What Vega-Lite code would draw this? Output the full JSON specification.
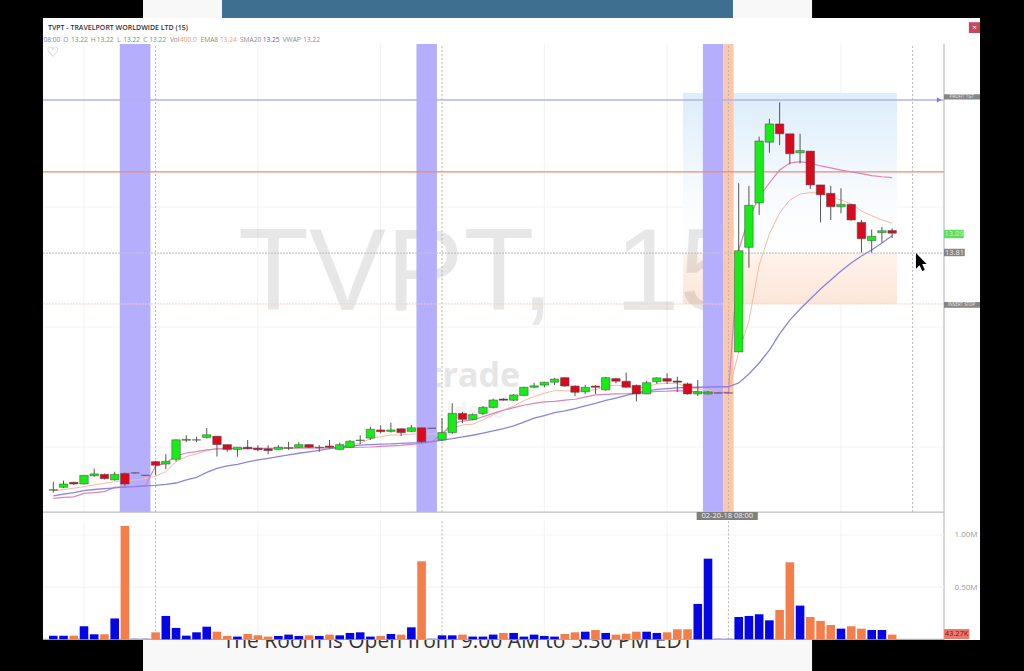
{"$schema":"https://vega.github.io/schema/vega-lite/v6.json","width":1024,"height":671,"autosize":{"type":"none"},"padding":0,"background":"#000000","config":{"view":{"stroke":null},"font":"Open Sans","axis":{"title":null}},
"datasets":{"bars":[
{"i":0,"o":12.820,"h":12.855,"l":12.810,"c":12.822,"v":35000,"dir":"up","ema":12.817,"sma":12.796,"vwap":12.786},
{"i":1,"o":12.832,"h":12.860,"l":12.829,"c":12.846,"v":35000,"dir":"up","ema":12.823,"sma":12.804,"vwap":12.790},
{"i":2,"o":12.853,"h":12.855,"l":12.842,"c":12.846,"v":35000,"dir":"down","ema":12.828,"sma":12.810,"vwap":12.792},
{"i":3,"o":12.846,"h":12.883,"l":12.844,"c":12.882,"v":125000,"dir":"up","ema":12.835,"sma":12.818,"vwap":12.807},
{"i":4,"o":12.880,"h":12.910,"l":12.876,"c":12.888,"v":48000,"dir":"up","ema":12.842,"sma":12.823,"vwap":12.810},
{"i":5,"o":12.886,"h":12.889,"l":12.865,"c":12.868,"v":48000,"dir":"down","ema":12.849,"sma":12.827,"vwap":12.814},
{"i":6,"o":12.863,"h":12.897,"l":12.860,"c":12.886,"v":200000,"dir":"up","ema":12.855,"sma":12.830,"vwap":12.832},
{"i":7,"o":12.890,"h":12.893,"l":12.838,"c":12.846,"v":1086000,"dir":"down","ema":12.860,"sma":12.833,"vwap":12.835},
{"i":8,"o":12.892,"h":12.893,"l":12.890,"c":12.892,"v":10000,"dir":"flat","ema":12.863,"sma":12.835,"vwap":12.836},
{"i":9,"o":12.882,"h":12.883,"l":12.881,"c":12.882,"v":10000,"dir":"flat","ema":12.868,"sma":12.838,"vwap":12.838},
{"i":10,"o":12.939,"h":12.942,"l":12.883,"c":12.924,"v":67000,"dir":"down","ema":12.879,"sma":12.840,"vwap":12.921},
{"i":11,"o":12.929,"h":12.970,"l":12.907,"c":12.940,"v":224000,"dir":"up","ema":12.897,"sma":12.844,"vwap":12.933},
{"i":12,"o":12.949,"h":13.032,"l":12.940,"c":13.030,"v":109000,"dir":"up","ema":12.939,"sma":12.850,"vwap":12.963},
{"i":13,"o":13.028,"h":13.049,"l":13.020,"c":13.032,"v":35000,"dir":"up","ema":12.960,"sma":12.863,"vwap":12.975},
{"i":14,"o":13.029,"h":13.043,"l":13.020,"c":13.030,"v":67000,"dir":"up","ema":12.971,"sma":12.873,"vwap":12.981},
{"i":15,"o":13.040,"h":13.079,"l":13.035,"c":13.051,"v":121000,"dir":"up","ema":12.985,"sma":12.894,"vwap":12.988},
{"i":16,"o":13.045,"h":13.046,"l":12.960,"c":13.010,"v":73000,"dir":"down","ema":12.993,"sma":12.911,"vwap":12.992},
{"i":17,"o":13.010,"h":13.010,"l":12.980,"c":12.990,"v":32000,"dir":"down","ema":12.993,"sma":12.921,"vwap":12.993},
{"i":18,"o":12.990,"h":12.999,"l":12.960,"c":12.999,"v":26000,"dir":"up","ema":12.993,"sma":12.928,"vwap":12.993},
{"i":19,"o":12.999,"h":13.029,"l":12.990,"c":12.993,"v":51000,"dir":"down","ema":12.993,"sma":12.938,"vwap":12.994},
{"i":20,"o":12.995,"h":13.007,"l":12.982,"c":12.989,"v":38000,"dir":"down","ema":12.993,"sma":12.946,"vwap":12.994},
{"i":21,"o":12.992,"h":13.007,"l":12.970,"c":12.985,"v":26000,"dir":"down","ema":12.993,"sma":12.953,"vwap":12.994},
{"i":22,"o":12.990,"h":13.008,"l":12.988,"c":12.999,"v":32000,"dir":"up","ema":12.994,"sma":12.960,"vwap":12.995},
{"i":23,"o":12.995,"h":13.021,"l":12.988,"c":12.997,"v":45000,"dir":"up","ema":12.994,"sma":12.967,"vwap":12.995},
{"i":24,"o":12.999,"h":13.020,"l":12.996,"c":13.010,"v":32000,"dir":"up","ema":12.995,"sma":12.974,"vwap":12.996},
{"i":25,"o":13.010,"h":13.012,"l":12.996,"c":12.999,"v":38000,"dir":"down","ema":12.996,"sma":12.980,"vwap":12.996},
{"i":26,"o":12.997,"h":13.008,"l":12.980,"c":12.999,"v":32000,"dir":"up","ema":12.996,"sma":12.986,"vwap":12.996},
{"i":27,"o":13.004,"h":13.029,"l":12.995,"c":12.999,"v":45000,"dir":"down","ema":12.996,"sma":12.993,"vwap":12.997},
{"i":28,"o":12.990,"h":13.018,"l":12.988,"c":13.010,"v":38000,"dir":"up","ema":12.999,"sma":12.998,"vwap":12.997},
{"i":29,"o":12.999,"h":13.029,"l":12.996,"c":13.024,"v":61000,"dir":"up","ema":13.010,"sma":13.004,"vwap":12.998},
{"i":30,"o":13.027,"h":13.049,"l":13.012,"c":13.029,"v":67000,"dir":"up","ema":13.015,"sma":13.008,"vwap":12.999},
{"i":31,"o":13.037,"h":13.085,"l":13.029,"c":13.074,"v":26000,"dir":"up","ema":13.035,"sma":13.010,"vwap":13.000},
{"i":32,"o":13.071,"h":13.090,"l":13.057,"c":13.064,"v":32000,"dir":"down","ema":13.043,"sma":13.012,"vwap":13.003},
{"i":33,"o":13.065,"h":13.101,"l":13.060,"c":13.071,"v":51000,"dir":"up","ema":13.050,"sma":13.013,"vwap":13.005},
{"i":34,"o":13.076,"h":13.078,"l":13.046,"c":13.060,"v":45000,"dir":"down","ema":13.050,"sma":13.015,"vwap":13.007},
{"i":35,"o":13.065,"h":13.092,"l":13.062,"c":13.080,"v":115000,"dir":"up","ema":13.054,"sma":13.017,"vwap":13.011},
{"i":36,"o":13.080,"h":13.080,"l":13.017,"c":13.022,"v":748000,"dir":"down","ema":13.054,"sma":13.018,"vwap":13.015},
{"i":37,"o":13.078,"h":13.079,"l":13.077,"c":13.078,"v":10000,"dir":"flat","ema":13.054,"sma":13.022,"vwap":13.022},
{"i":38,"o":13.029,"h":13.120,"l":13.025,"c":13.060,"v":38000,"dir":"up","ema":13.060,"sma":13.029,"vwap":13.054},
{"i":39,"o":13.060,"h":13.182,"l":13.054,"c":13.140,"v":38000,"dir":"up","ema":13.078,"sma":13.035,"vwap":13.099},
{"i":40,"o":13.140,"h":13.147,"l":13.099,"c":13.115,"v":45000,"dir":"down","ema":13.092,"sma":13.042,"vwap":13.108},
{"i":41,"o":13.115,"h":13.140,"l":13.112,"c":13.135,"v":26000,"dir":"up","ema":13.095,"sma":13.049,"vwap":13.113},
{"i":42,"o":13.140,"h":13.171,"l":13.133,"c":13.165,"v":26000,"dir":"up","ema":13.113,"sma":13.058,"vwap":13.126},
{"i":43,"o":13.165,"h":13.201,"l":13.160,"c":13.196,"v":45000,"dir":"up","ema":13.133,"sma":13.067,"vwap":13.140},
{"i":44,"o":13.200,"h":13.203,"l":13.193,"c":13.195,"v":61000,"dir":"down","ema":13.154,"sma":13.077,"vwap":13.153},
{"i":45,"o":13.195,"h":13.221,"l":13.192,"c":13.217,"v":61000,"dir":"up","ema":13.171,"sma":13.088,"vwap":13.164},
{"i":46,"o":13.215,"h":13.251,"l":13.212,"c":13.249,"v":26000,"dir":"up","ema":13.193,"sma":13.104,"vwap":13.174},
{"i":47,"o":13.249,"h":13.268,"l":13.245,"c":13.255,"v":45000,"dir":"up","ema":13.210,"sma":13.120,"vwap":13.182},
{"i":48,"o":13.258,"h":13.272,"l":13.249,"c":13.270,"v":32000,"dir":"up","ema":13.224,"sma":13.131,"vwap":13.188},
{"i":49,"o":13.270,"h":13.288,"l":13.258,"c":13.283,"v":26000,"dir":"up","ema":13.235,"sma":13.143,"vwap":13.190},
{"i":50,"o":13.289,"h":13.290,"l":13.251,"c":13.254,"v":51000,"dir":"down","ema":13.235,"sma":13.151,"vwap":13.195},
{"i":51,"o":13.254,"h":13.257,"l":13.212,"c":13.228,"v":67000,"dir":"down","ema":13.232,"sma":13.160,"vwap":13.199},
{"i":52,"o":13.230,"h":13.258,"l":13.221,"c":13.249,"v":73000,"dir":"up","ema":13.235,"sma":13.171,"vwap":13.208},
{"i":53,"o":13.254,"h":13.257,"l":13.221,"c":13.249,"v":89000,"dir":"down","ema":13.238,"sma":13.182,"vwap":13.217},
{"i":54,"o":13.238,"h":13.292,"l":13.235,"c":13.289,"v":61000,"dir":"up","ema":13.254,"sma":13.194,"vwap":13.219},
{"i":55,"o":13.285,"h":13.288,"l":13.265,"c":13.274,"v":45000,"dir":"down","ema":13.257,"sma":13.204,"vwap":13.221},
{"i":56,"o":13.274,"h":13.310,"l":13.246,"c":13.249,"v":54000,"dir":"down","ema":13.254,"sma":13.215,"vwap":13.222},
{"i":57,"o":13.257,"h":13.260,"l":13.190,"c":13.221,"v":73000,"dir":"down","ema":13.245,"sma":13.226,"vwap":13.224},
{"i":58,"o":13.221,"h":13.276,"l":13.220,"c":13.268,"v":73000,"dir":"up","ema":13.251,"sma":13.233,"vwap":13.228},
{"i":59,"o":13.272,"h":13.290,"l":13.263,"c":13.288,"v":61000,"dir":"up","ema":13.263,"sma":13.240,"vwap":13.232},
{"i":60,"o":13.285,"h":13.307,"l":13.263,"c":13.274,"v":67000,"dir":"down","ema":13.265,"sma":13.243,"vwap":13.233},
{"i":61,"o":13.275,"h":13.293,"l":13.229,"c":13.270,"v":96000,"dir":"down","ema":13.265,"sma":13.246,"vwap":13.235},
{"i":62,"o":13.263,"h":13.268,"l":13.218,"c":13.221,"v":96000,"dir":"down","ema":13.249,"sma":13.248,"vwap":13.233},
{"i":63,"o":13.221,"h":13.279,"l":13.212,"c":13.230,"v":339000,"dir":"up","ema":13.242,"sma":13.249,"vwap":13.230},
{"i":64,"o":13.221,"h":13.233,"l":13.219,"c":13.229,"v":773000,"dir":"up","ema":13.238,"sma":13.250,"vwap":13.229},
{"i":65,"o":13.225,"h":13.226,"l":13.224,"c":13.225,"v":10000,"dir":"flat","ema":13.229,"sma":13.251,"vwap":13.228},
{"i":66,"o":13.225,"h":13.226,"l":13.224,"c":13.225,"v":10000,"dir":"flat","ema":13.225,"sma":13.251,"vwap":13.228},
{"i":67,"o":13.396,"h":14.099,"l":13.396,"c":13.818,"v":214000,"dir":"up","ema":13.396,"sma":13.267,"vwap":13.821},
{"i":68,"o":13.832,"h":14.088,"l":13.747,"c":14.007,"v":224000,"dir":"up","ema":13.525,"sma":13.304,"vwap":13.954},
{"i":69,"o":14.017,"h":14.293,"l":13.967,"c":14.275,"v":240000,"dir":"up","ema":13.758,"sma":13.350,"vwap":14.042},
{"i":70,"o":14.270,"h":14.367,"l":14.226,"c":14.346,"v":182000,"dir":"up","ema":13.888,"sma":13.404,"vwap":14.100},
{"i":71,"o":14.346,"h":14.436,"l":14.258,"c":14.305,"v":281000,"dir":"down","ema":13.975,"sma":13.471,"vwap":14.154},
{"i":72,"o":14.305,"h":14.305,"l":14.178,"c":14.222,"v":738000,"dir":"down","ema":14.029,"sma":13.529,"vwap":14.183},
{"i":73,"o":14.226,"h":14.305,"l":14.182,"c":14.235,"v":323000,"dir":"up","ema":14.054,"sma":13.575,"vwap":14.189},
{"i":74,"o":14.233,"h":14.233,"l":14.075,"c":14.092,"v":214000,"dir":"down","ema":14.060,"sma":13.617,"vwap":14.183},
{"i":75,"o":14.092,"h":14.092,"l":13.936,"c":14.051,"v":176000,"dir":"down","ema":14.058,"sma":13.658,"vwap":14.171},
{"i":76,"o":14.057,"h":14.088,"l":13.946,"c":14.001,"v":137000,"dir":"down","ema":14.043,"sma":13.696,"vwap":14.163},
{"i":77,"o":14.001,"h":14.078,"l":13.974,"c":14.011,"v":102000,"dir":"up","ema":14.029,"sma":13.733,"vwap":14.154},
{"i":78,"o":14.011,"h":14.011,"l":13.943,"c":13.946,"v":125000,"dir":"down","ema":14.013,"sma":13.767,"vwap":14.146},
{"i":79,"o":13.936,"h":13.946,"l":13.810,"c":13.868,"v":102000,"dir":"down","ema":13.983,"sma":13.796,"vwap":14.139},
{"i":80,"o":13.860,"h":13.906,"l":13.810,"c":13.878,"v":89000,"dir":"up","ema":13.964,"sma":13.821,"vwap":14.131},
{"i":81,"o":13.893,"h":13.917,"l":13.851,"c":13.901,"v":89000,"dir":"up","ema":13.946,"sma":13.850,"vwap":14.126},
{"i":82,"o":13.902,"h":13.911,"l":13.871,"c":13.891,"v":45000,"dir":"down","ema":13.933,"sma":13.880,"vwap":14.122}
]},
"resolve":{"scale":{"y":"independent","color":"independent"}},
"layer":[
{"encoding":{
"x":{"field":"i","type":"quantitative","scale":{"domain":[-5.21,94.89],"nice":false,"zero":false,"padding":0},"axis":{"orient":"bottom","offset":-159,"values":[3,10,20,32,38,48,60,77],"labelExpr":"datum.value==10?'2-15':datum.value==38?'2-16':(datum.value==3||datum.value==32||datum.value==60)?'15:00':'12:00'","labelFontSize":8,"labelColor":"#808080","labelPadding":0,"ticks":false,"domain":false,"grid":false,"zindex":1,"title":null,"labelFont":"Open Sans"}},
"y":{"field":"p","type":"quantitative","scale":{"domain":[12.0667,14.8625],"nice":false,"zero":false},"axis":{"orient":"right","offset":-80,"values":[13,13.5,14],"format":"$.2f","labelFontSize":8,"labelColor":"#9a9a9a","labelPadding":10,"ticks":false,"domain":false,"grid":false,"zindex":1,"title":null,"labelFont":"Open Sans"}}
},
"layer":[
{"data":{"values":[{"i":8.77,"i2":74.17,"p":12.0667,"p2":12.196},{"i":8.77,"i2":74.17,"p":14.7875,"p2":14.8625}]},"mark":{"type":"rect","color":"#f8f8f8"},"encoding":{"x2":{"field":"i2"},"y2":{"field":"p2"}}},
{"data":{"values":[{"i":16.49,"i2":66.44,"p":14.7875,"p2":14.8625}]},"mark":{"type":"rect","color":"#3f6f90"},"encoding":{"x2":{"field":"i2"},"y2":{"field":"p2"}}},
{"data":{"values":[{"i":39.56,"p":12.1625,"t":"The Room is Open from 9:00 AM to 5:30 PM EDT"}]},"mark":{"type":"text","fontSize":21,"color":"#333333","align":"center","baseline":"alphabetic","font":"Open Sans"},"encoding":{"text":{"field":"t"}}},
{"data":{"values":[{"i":-1.01,"i2":90.59,"p":12.196,"p2":14.7875}]},"mark":{"type":"rect","color":"#ffffff"},"encoding":{"x2":{"field":"i2"},"y2":{"field":"p2"}}},
{"data":{"values":[{"i":3,"p":12.729,"p2":14.679},{"i":20,"p":12.729,"p2":14.679},{"i":32,"p":12.729,"p2":14.679},{"i":48,"p":12.729,"p2":14.679},{"i":60,"p":12.729,"p2":14.679},{"i":77,"p":12.729,"p2":14.679}]},"mark":{"type":"rule","color":"#f2f2f2","strokeWidth":1},"encoding":{"y2":{"field":"p2"}}},
{"data":{"values":[{"i":-1.01,"i2":87.07,"p":13},{"i":-1.01,"i2":87.07,"p":13.5},{"i":-1.01,"i2":87.07,"p":14}]},"mark":{"type":"rule","color":"#f2f2f2","strokeWidth":1},"encoding":{"x2":{"field":"i2"}}},
{"data":{"values":[{"i":61.55,"i2":82.47,"p":13.808,"p2":14.475}]},"mark":{"type":"rect","fill":{"gradient":"linear","x1":0,"y1":0,"x2":0,"y2":1,"stops":[{"offset":0,"color":"#dcedfb"},{"offset":0.65,"color":"#f8fbfe"},{"offset":1,"color":"#ffffff"}]}},"encoding":{"x2":{"field":"i2"},"y2":{"field":"p2"}}},
{"data":{"values":[{"i":61.55,"i2":82.47,"p":13.596,"p2":13.808}]},"mark":{"type":"rect","fill":{"gradient":"linear","x1":0,"y1":0,"x2":0,"y2":1,"stops":[{"offset":0,"color":"#fff3eb"},{"offset":1,"color":"#fce5d8"}]}},"encoding":{"x2":{"field":"i2"},"y2":{"field":"p2"}}},
{"data":{"values":[{"i":18.05,"p":13.571,"t":"TVPT,"},{"i":54.9,"p":13.571,"t":"15"}]},"mark":{"type":"text","fontSize":116,"color":"#000000","opacity":0.09,"align":"left","baseline":"alphabetic","font":"Liberation Sans"},"encoding":{"text":{"field":"t"}}},
{"data":{"values":[{"i":36.6,"p":13.25,"t":"trade"}]},"mark":{"type":"text","fontSize":34,"fontWeight":"bold","color":"#e6e6e6","align":"left","baseline":"alphabetic","font":"Open Sans"},"encoding":{"text":{"field":"t"}}},
{"data":{"values":[{"i":41.3,"p":13.12,"t":"ideas"}]},"mark":{"type":"text","fontSize":22,"fontWeight":"bold","color":"#f3f3f3","align":"center","baseline":"alphabetic","font":"Open Sans"},"encoding":{"text":{"field":"t"}}},
{"data":{"values":[{"i":6.5,"i2":9.5,"p":12.729,"p2":14.679},{"i":35.5,"i2":37.5,"p":12.729,"p2":14.679},{"i":63.5,"i2":65.5,"p":12.729,"p2":14.679}]},"mark":{"type":"rect","color":"#b4aefc"},"encoding":{"x2":{"field":"i2"},"y2":{"field":"p2"}}},
{"data":{"values":[{"i":65.5,"i2":66.5,"p":12.729,"p2":14.679}]},"mark":{"type":"rect","color":"#fbc8ac"},"encoding":{"x2":{"field":"i2"},"y2":{"field":"p2"}}},
{"data":{"values":[{"i":10,"p":12.729,"p2":14.679},{"i":38,"p":12.729,"p2":14.679},{"i":66,"p":12.729,"p2":14.679},{"i":84,"p":12.729,"p2":14.679}]},"mark":{"type":"rule","color":"#b5b5b5","strokeWidth":1,"strokeDash":[2,2]},"encoding":{"y2":{"field":"p2"}}},
{"data":{"values":[{"i":-1.01,"i2":87.07,"p":14.446}]},"mark":{"type":"rule","color":"#b3b0ee","strokeWidth":1.6},"encoding":{"x2":{"field":"i2"}}},
{"data":{"values":[{"i":-1.01,"i2":87.07,"p":14.146}]},"mark":{"type":"rule","color":"#ec8a72","strokeWidth":1.3},"encoding":{"x2":{"field":"i2"}}},
{"data":{"values":[{"i":-1.01,"i2":87.07,"p":13.808}]},"mark":{"type":"rule","color":"#c4c4c4","strokeWidth":1.2,"strokeDash":[2,1]},"encoding":{"x2":{"field":"i2"}}},
{"data":{"values":[{"i":-1.01,"i2":87.07,"p":13.596}]},"mark":{"type":"rule","color":"#f6cfc0","strokeWidth":1,"strokeDash":[2,1]},"encoding":{"x2":{"field":"i2"}}},
{"data":{"values":[{"i":86.6,"p":14.446}]},"mark":{"type":"point","shape":"triangle-right","filled":true,"size":28,"color":"#7c78e6","opacity":1}},
{"data":{"name":"bars"},"mark":{"type":"line","color":"#f4bba3","strokeWidth":1},"encoding":{"y":{"field":"ema","type":"quantitative","axis":null}}},
{"data":{"name":"bars"},"mark":{"type":"line","color":"#dc84b8","strokeWidth":1.2},"encoding":{"y":{"field":"vwap","type":"quantitative","axis":null}}},
{"data":{"name":"bars"},"mark":{"type":"line","color":"#8a84e0","strokeWidth":1.3},"encoding":{"y":{"field":"sma","type":"quantitative","axis":null}}},
{"data":{"name":"bars"},"mark":{"type":"rule","color":"#555555","strokeWidth":1},"encoding":{"y":{"field":"l","type":"quantitative","axis":null},"y2":{"field":"h"}}},
{"data":{"name":"bars"},"mark":{"type":"bar","size":8.5,"orient":"vertical","stroke":"#444444","strokeWidth":0.5},"encoding":{"y":{"field":"o","type":"quantitative","axis":null,"stack":null},"y2":{"field":"c"},"color":{"field":"dir","type":"nominal","legend":null,"scale":{"domain":["up","down","flat"],"range":["#17ec17","#d90a1e","#333366"]}}}},
{"data":{"values":[{"i":87.07,"p":12.196,"p2":14.679}]},"mark":{"type":"rule","color":"#bdbdbd","strokeWidth":1.2},"encoding":{"y2":{"field":"p2"}}},
{"data":{"values":[{"i":-1.01,"i2":87.07,"p":12.729}]},"mark":{"type":"rule","color":"#bdbdbd","strokeWidth":1.2},"encoding":{"x2":{"field":"i2"}}},
{"data":{"values":[{"i":87.07,"i2":90.59,"p":14.448,"p2":14.47},{"i":87.07,"i2":90.59,"p":13.58,"p2":13.604},{"i":87.07,"i2":89.1,"p":13.795,"p2":13.826}]},"mark":{"type":"rect","color":"#858585"},"encoding":{"x2":{"field":"i2"},"y2":{"field":"p2"}}},
{"data":{"values":[{"i":87.07,"i2":89.0,"p":13.87,"p2":13.905}]},"mark":{"type":"rect","color":"#5fdc5f"},"encoding":{"x2":{"field":"i2"},"y2":{"field":"p2"}}},
{"data":{"values":[{"i":88.8,"p":14.459,"t":"PROFIT TGT"},{"i":88.8,"p":13.592,"t":"INSERT STOP"}]},"mark":{"type":"text","fontSize":4.5,"color":"#eeeeee","align":"center","baseline":"middle"},"encoding":{"text":{"field":"t"}}},
{"data":{"values":[{"i":88.1,"p":13.81,"t":"13.81"}]},"mark":{"type":"text","fontSize":7.5,"color":"#f0f0f0","align":"center","baseline":"middle"},"encoding":{"text":{"field":"t"}}},
{"data":{"values":[{"i":88.05,"p":13.888,"t":"13.89"}]},"mark":{"type":"text","fontSize":7.5,"color":"#c9f5c9","align":"center","baseline":"middle"},"encoding":{"text":{"field":"t"}}},
{"data":{"values":[{"i":84.33,"p":13.808}]},"mark":{"type":"point","filled":true,"opacity":1,"color":"#000000","size":1350,"shape":"M0 0 L0 0.85 L0.2 0.66 L0.34 0.98 L0.48 0.92 L0.34 0.6 L0.58 0.6 Z"}},
{"data":{"values":[{"i":-0.52,"p":14.7375,"t":"TVPT - TRAVELPORT WORLDWIDE LTD (15)"}]},"mark":{"type":"text","fontSize":7,"fontWeight":600,"color":"#333333","align":"left","baseline":"alphabetic"},"encoding":{"text":{"field":"t"}}},
{"data":{"values":[{"i":-0.95,"p":14.688,"t":"08:00"},{"i":0.98,"p":14.688,"t":"O"},{"i":3.66,"p":14.688,"t":"H"},{"i":6.26,"p":14.688,"t":"L"},{"i":8.8,"p":14.688,"t":"C"},{"i":11.4,"p":14.688,"t":"Vol"},{"i":14.4,"p":14.688,"t":"EMA8"},{"i":18.25,"p":14.688,"t":"SMA20"},{"i":22.42,"p":14.688,"t":"VWAP"}]},"mark":{"type":"text","fontSize":6.6,"color":"#8a8a8a","align":"left","baseline":"alphabetic"},"encoding":{"text":{"field":"t"}}},
{"data":{"values":[{"i":1.73,"p":14.688,"t":"13.22"},{"i":4.24,"p":14.688,"t":"13.22"},{"i":6.84,"p":14.688,"t":"13.22"},{"i":9.38,"p":14.688,"t":"13.22"}]},"mark":{"type":"text","fontSize":6.6,"color":"#5f9f5f","align":"left","baseline":"alphabetic"},"encoding":{"text":{"field":"t"}}},
{"data":{"values":[{"i":12.38,"p":14.688,"t":"400.0"},{"i":16.3,"p":14.688,"t":"13.24"}]},"mark":{"type":"text","fontSize":6.6,"color":"#f09a6c","align":"left","baseline":"alphabetic"},"encoding":{"text":{"field":"t"}}},
{"data":{"values":[{"i":20.47,"p":14.688,"t":"13.25"}]},"mark":{"type":"text","fontSize":6.6,"color":"#5a55cc","align":"left","baseline":"alphabetic"},"encoding":{"text":{"field":"t"}}},
{"data":{"values":[{"i":24.44,"p":14.688,"t":"13.22"}]},"mark":{"type":"text","fontSize":6.6,"color":"#d45aa4","align":"left","baseline":"alphabetic"},"encoding":{"text":{"field":"t"}}},
{"data":{"values":[{"i":-0.06,"p":14.64,"t":"♡"}]},"mark":{"type":"text","fontSize":14,"color":"#a5a5a5","align":"center","baseline":"middle","font":"DejaVu Sans"},"encoding":{"text":{"field":"t"}}},
{"data":{"values":[{"i":89.5,"i2":90.59,"p":14.725,"p2":14.77}]},"mark":{"type":"rect","color":"#c2485c"},"encoding":{"x2":{"field":"i2"},"y2":{"field":"p2"}}},
{"data":{"values":[{"i":90.05,"p":14.747,"t":"×"}]},"mark":{"type":"text","fontSize":8,"color":"#ffffff","align":"center","baseline":"middle"},"encoding":{"text":{"field":"t"}}},
{"data":{"values":[{"i":62.89,"i2":68.87,"p":12.696,"p2":12.729}]},"mark":{"type":"rect","color":"#7f7f7f"},"encoding":{"x2":{"field":"i2"},"y2":{"field":"p2"}}},
{"data":{"values":[{"i":65.88,"p":12.7125,"t":"02-20-18 08:00"}]},"mark":{"type":"text","fontSize":7.5,"color":"#f2f2f2","align":"center","baseline":"middle"},"encoding":{"text":{"field":"t"}}},
{"data":{"values":[{"i":87.07,"i2":89.55,"p":12.2,"p2":12.2417}]},"mark":{"type":"rect","color":"#f0786a"},"encoding":{"x2":{"field":"i2"},"y2":{"field":"p2"}}},
{"data":{"values":[{"i":88.3,"p":12.221,"t":"43.27K"}]},"mark":{"type":"text","fontSize":7.5,"color":"#7a1020","align":"center","baseline":"middle"},"encoding":{"text":{"field":"t"}}}
]},
{"encoding":{
"x":{"field":"i","type":"quantitative","scale":{"padding":0},"axis":null},
"y":{"field":"v","type":"quantitative","scale":{"domain":[-303900,6129000],"nice":false,"zero":false},"axis":{"orient":"right","offset":-80,"values":[500000,1000000],"labelExpr":"format(datum.value/1000000,'.2f')+'M'","labelFontSize":8,"labelColor":"#9a9a9a","labelPadding":10,"ticks":false,"domain":false,"grid":false,"zindex":1,"title":null,"labelFont":"Open Sans"}}
},
"layer":[
{"data":{"values":[{"i":-1.01,"i2":87.07,"v":500000},{"i":-1.01,"i2":87.07,"v":1000000}]},"mark":{"type":"rule","color":"#f2f2f2","strokeWidth":1},"encoding":{"x2":{"field":"i2"}}},
{"data":{"values":[{"i":3,"v":0,"v2":1134000},{"i":20,"v":0,"v2":1134000},{"i":32,"v":0,"v2":1134000},{"i":48,"v":0,"v2":1134000},{"i":60,"v":0,"v2":1134000},{"i":77,"v":0,"v2":1134000}]},"mark":{"type":"rule","color":"#f2f2f2","strokeWidth":1},"encoding":{"y2":{"field":"v2"}}},
{"data":{"values":[{"i":10,"v":0,"v2":1134000},{"i":38,"v":0,"v2":1134000},{"i":66,"v":0,"v2":1134000}]},"mark":{"type":"rule","color":"#b5b5b5","strokeWidth":1,"strokeDash":[2,2]},"encoding":{"y2":{"field":"v2"}}},
{"data":{"values":[{"i":-1.01,"i2":87.07,"v":0}]},"mark":{"type":"rule","color":"#9a9a9a","strokeWidth":1},"encoding":{"x2":{"field":"i2"}}},
{"data":{"name":"bars"},"mark":{"type":"bar","size":8.6,"orient":"vertical"},"encoding":{"y":{"field":"v","type":"quantitative","stack":null},"color":{"field":"dir","type":"nominal","legend":null,"scale":{"domain":["up","down","flat"],"range":["#0505e6","#f47d4a","#b4aef0"]}}}}
]}
]}
